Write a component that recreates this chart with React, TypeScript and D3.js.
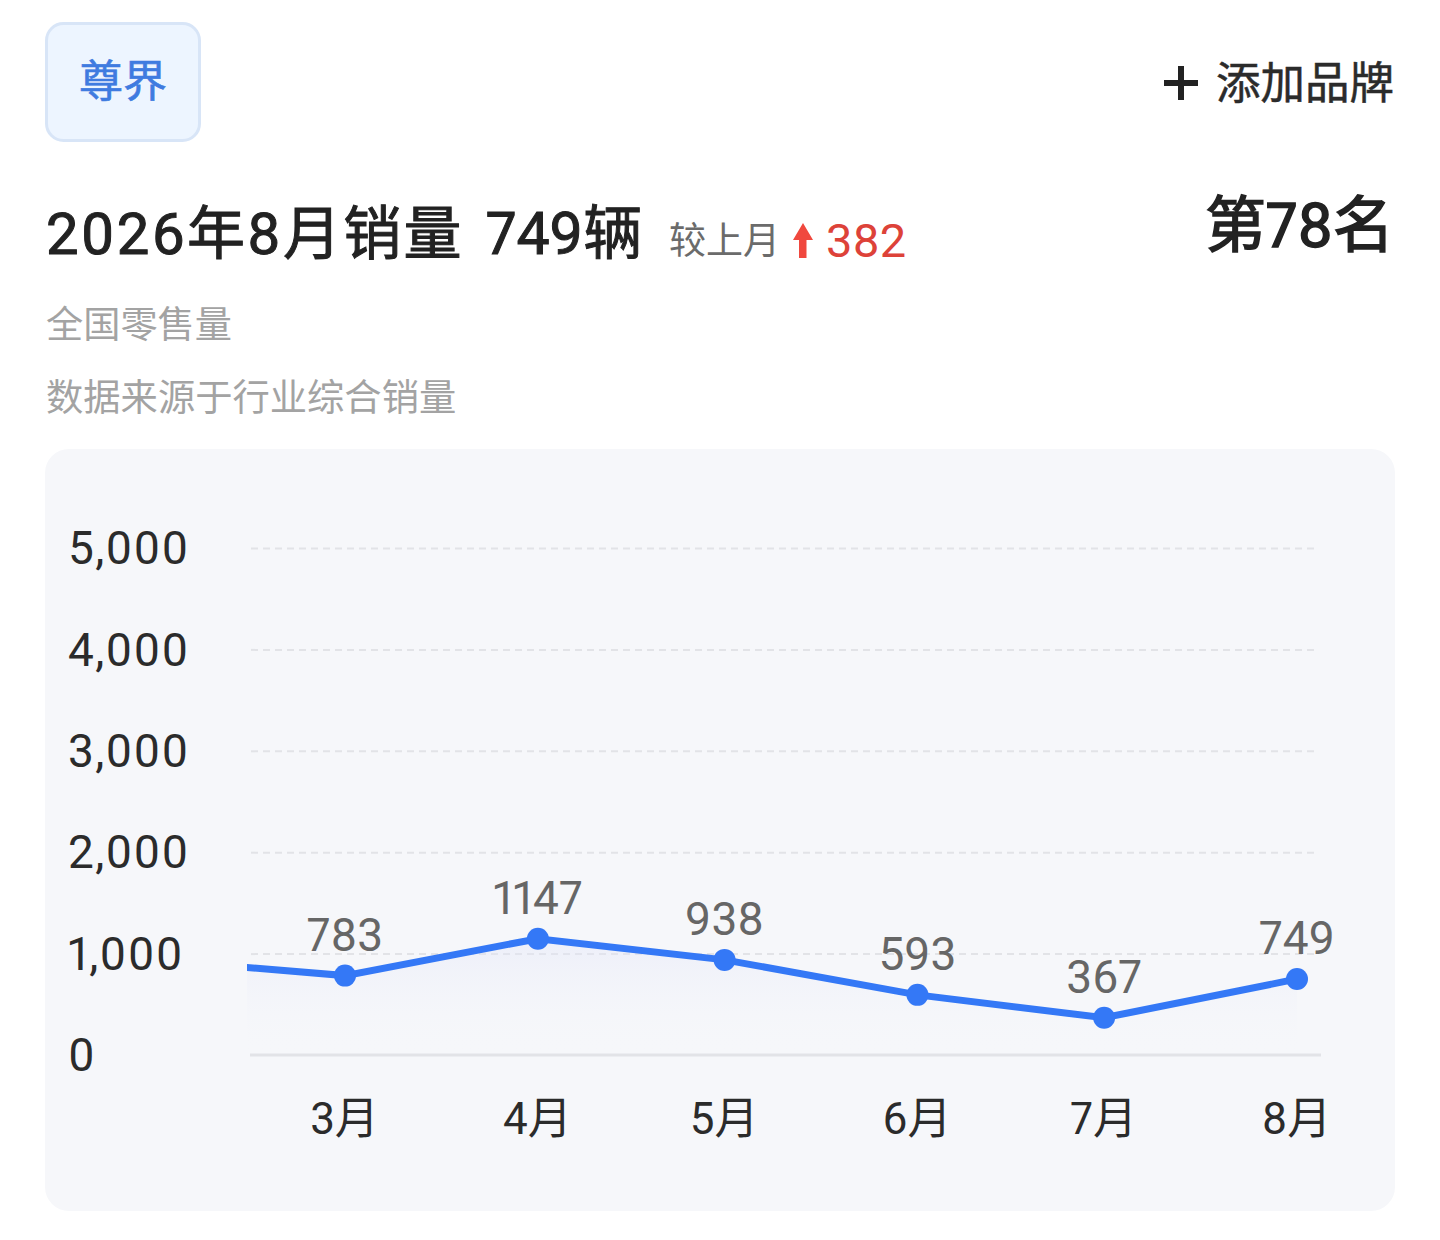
/**
 * BrandSalesCard
 * Monthly retail sales line chart inside a phone style card.
 */
import { useEffect, useRef } from 'react';
import * as d3 from 'd3';

const months = ['2026-02-01', '2026-03-01', '2026-04-01', '2026-05-01', '2026-06-01', '2026-07-01', '2026-08-01'];
const sales = [925, 783, 1147, 938, 593, 367, 749];
const monthLabels = ['', '3月', '4月', '5月', '6月', '7月', '8月'];
const yTicks = [0, 1000, 2000, 3000, 4000, 5000];

const FONT = 'Roboto, "Noto Sans CJK SC", sans-serif';
const CJK = '"Noto Sans CJK SC", sans-serif';

const parse = d3.utcParse('%Y-%m-%d');

export default function App() {
  const svgRef = useRef<SVGSVGElement>(null);

  useEffect(() => {
    if (!svgRef.current) return;
    const root = d3.select(svgRef.current).style('font-variant-numeric', 'proportional-nums');
    root.selectAll('*').remove();

    const dates = months.map((m) => parse(m) as Date);
    const points = dates.map((d, i) => ({ date: d, value: sales[i], label: monthLabels[i] }));
    const shown = points.slice(1);

    // card + header
    const text = (x: number, y: number, s: string, size: number, fill: string, stroke = 0, anchor = 'start', family = CJK) =>
      root
        .append('text')
        .attr('x', x)
        .attr('y', y)
        .attr('font-family', family)
        .attr('font-size', size)
        .attr('fill', fill)
        .attr('stroke', stroke ? fill : 'none')
        .attr('stroke-width', stroke)
        .attr('text-anchor', anchor)
        .text(s);

    root
      .append('rect')
      .attr('x', 46.5)
      .attr('y', 23.5)
      .attr('width', 153)
      .attr('height', 117)
      .attr('rx', 17)
      .attr('fill', '#edf5ff')
      .attr('stroke', '#d8e5f7')
      .attr('stroke-width', 3);
    text(123, 97, '尊界', 44, '#3f7be0', 0.6, 'middle');

    root.append('path').attr('d', 'M1181 66V100M1164 83H1198').attr('stroke', '#222').attr('stroke-width', 6).attr('fill', 'none');
    text(1216, 99, '添加品牌', 44.5, '#2b2b2b', 0.5);

    text(46, 254, '2026年8月销量', 58, '#222', 1, 'start', FONT).attr('letter-spacing', 2.2);
    text(486, 254, '749辆', 59, '#222', 1, 'start', FONT);
    text(669, 254, '较上月', 37, '#6b6b6b');
    root.append('path').attr('d', 'M803 223L813 240H806.5V258H799V240H793Z').attr('fill', '#f0483e');
    text(826, 257, '382', 47, '#dd4239', 0, 'start', FONT);
    text(1394, 247, '第78名', 61, '#222', 1.5, 'end', FONT);
    text(46, 338, '全国零售量', 37.2, '#a3a3a3');
    text(46, 411, '数据来源于行业综合销量', 37.3, '#a3a3a3');

    root.append('rect').attr('x', 45).attr('y', 449).attr('width', 1350).attr('height', 762).attr('rx', 24).attr('fill', '#f6f7fa');

    // scales
    const xScale = d3
      .scaleUtc()
      .domain([dates[1], dates[6]])
      .range([345, 1297]);
    const yScale = d3.scaleLinear().domain([0, 5000]).range([1055, 548]);

    // y axis with dashed grid
    const yAxis = root
      .append('g')
      .attr('transform', 'translate(251,0)')
      .call(
        d3
          .axisLeft(yScale)
          .tickValues(yTicks)
          .tickSize(-1066)
          .tickPadding(63)
          .tickFormat((d) => d3.format(',')(d as number))
      );
    yAxis.select('.domain').remove();
    yAxis.selectAll('.tick line').attr('stroke', '#e2e3e7').attr('stroke-width', 2).attr('stroke-dasharray', '7,5');
    yAxis
      .selectAll('.tick text')
      .attr('text-anchor', 'start')
      .attr('x', -183)
      .attr('dy', '0.34em')
      .attr('font-family', FONT)
      .attr('font-size', 46)
      .attr('letter-spacing', 1.3)
      .attr('fill', '#2b2b2b');
    yAxis.selectAll('.tick').filter((d) => d === 0).select('line').remove();

    // x axis
    const xAxis = root
      .append('g')
      .attr('transform', 'translate(0,1055)')
      .call(
        d3
          .axisBottom(xScale)
          .tickValues(shown.map((d) => d.date))
          .tickSize(0)
          .tickPadding(48)
          .tickFormat((_, i) => shown[i].label)
      );
    xAxis.select('.domain').remove();
    xAxis
      .selectAll('.tick text')
      .attr('dx', -1)
      .attr('font-family', FONT)
      .attr('font-size', 44)
      .attr('fill', '#2b2b2b');
    root.append('line').attr('x1', 250).attr('x2', 1321).attr('y1', 1055).attr('y2', 1055).attr('stroke', '#e2e3e7').attr('stroke-width', 3);

    // clip so the previous month runs in from the axis edge
    const defs = root.append('defs');
    defs.append('clipPath').attr('id', 'plot').append('rect').attr('x', 247).attr('y', 500).attr('width', 1050).attr('height', 560);
    const grad = defs.append('linearGradient').attr('id', 'fade').attr('x1', 0).attr('x2', 0).attr('y1', 0).attr('y2', 1);
    grad.append('stop').attr('offset', '0%').attr('stop-color', '#dfe3f8').attr('stop-opacity', 0.4);
    grad.append('stop').attr('offset', '100%').attr('stop-color', '#f6f7fa').attr('stop-opacity', 0);

    const area = d3
      .area<(typeof points)[number]>()
      .x((d) => xScale(d.date))
      .y0(yScale(0))
      .y1((d) => yScale(d.value));
    const line = d3
      .line<(typeof points)[number]>()
      .x((d) => xScale(d.date))
      .y((d) => yScale(d.value));

    const plot = root.append('g').attr('clip-path', 'url(#plot)');
    plot.append('path').datum(points).attr('fill', 'url(#fade)').attr('d', area);
    root
      .append('g')
      .attr('clip-path', 'url(#plot)')
      .append('path')
      .datum(points)
      .attr('fill', 'none')
      .attr('stroke', '#3478f6')
      .attr('stroke-width', 7)
      .attr('d', line);

    // points
    root
      .append('g')
      .selectAll('circle')
      .data(shown)
      .join('circle')
      .attr('cx', (d) => xScale(d.date))
      .attr('cy', (d) => yScale(d.value))
      .attr('r', 11)
      .attr('fill', '#3478f6');

    // value labels
    root
      .append('g')
      .selectAll('text')
      .data(shown)
      .join('text')
      .attr('x', (d) => xScale(d.date))
      .attr('y', (d) => yScale(d.value) - 25)
      .attr('text-anchor', 'middle')
      .attr('font-family', FONT)
      .attr('font-size', 46)
      .attr('fill', '#666')
      .text((d) => d.value);
  }, []);

  return <svg ref={svgRef} width={1440} height={1240} style={{ position: 'absolute', left: 0, top: 0, background: '#fff' }} />;
}
